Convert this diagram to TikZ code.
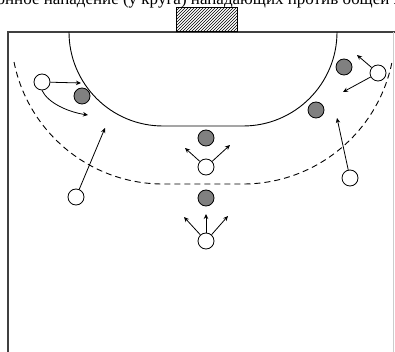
\documentclass[tikz,border=0pt]{standalone}
\usepackage{fontspec}
\setmainfont{Liberation Serif}
\usetikzlibrary{arrows.meta,patterns}
\begin{document}
\begin{tikzpicture}[x=1pt,y=1pt,yscale=-1,
  att/.style={circle,draw,fill=white,minimum size=16pt,inner sep=0pt,line width=0.8pt},
  def/.style={circle,draw,fill=gray,minimum size=16pt,inner sep=0pt,line width=0.8pt},
  mv/.style={-{Stealth[length=5pt,width=4.5pt]},line width=0.8pt},
  court/.style={line width=1.3pt,draw=black!75},
  zone/.style={line width=0.9pt},
  zone9/.style={line width=0.9pt,dash pattern=on 6pt off 4pt}]
\useasboundingbox (0,0) rectangle (395,352);
% cut title line
\node[anchor=base,font=\fontsize{17}{17}\selectfont,inner sep=0pt] (title) at (197,5) {позиционное нападение (у круга) нападающих против общей защиты};
% court borders
\draw[court] (8,352) -- (8,32) -- (395,32);
\draw[line width=0.6pt,draw=black!20] (393,32) -- (393,352);
% goal
\node[draw,line width=0.9pt,pattern=north east lines,minimum width=61pt,minimum height=24pt,inner sep=0pt,anchor=south west] (goal) at (176,32) {};
% 6 m line
\draw[zone] (69,32) arc[start angle=180,end angle=90,radius=94] -- (243,126) arc[start angle=90,end angle=0,radius=94];
% 9 m line
\draw[zone9] (163,32) ++(168.6:152) arc[start angle=168.6,end angle=90,radius=152] -- (243,184) arc[start angle=90,end angle=11.4,radius=152];
% players
\node[att] (w1) at (42,82) {};
\node[def] (g1) at (82,96) {};
\node[att] (w2) at (76,197) {};
\node[def] (g2) at (206,138) {};
\node[att] (w3) at (206,167) {};
\node[def] (g3) at (206,198) {};
\node[att] (w4) at (206,241) {};
\node[def] (g4) at (344,67) {};
\node[att] (w5) at (378,73) {};
\node[def] (g5) at (316,110) {};
\node[att] (w6) at (350,178) {};
% arrow targets
\coordinate (t1) at (81,83);
\coordinate (t2) at (88,115);
\coordinate (t3) at (105,128);
\coordinate (t4) at (185,148);
\coordinate (t5) at (230,145);
\coordinate (t6) at (184,217);
\coordinate (t7) at (206,214);
\coordinate (t8) at (228,216);
\coordinate (t9) at (357,55);
\coordinate (t10) at (343,92);
\coordinate (t11) at (337,118);
% moves
\draw[mv] (w1) -- (t1);
\draw[mv] (w1.south) .. controls (48,103) and (68,112) .. (t2);
\draw[mv] (w2) -- (t3);
\draw[mv] (w3) -- (t4);
\draw[mv] (w3) -- (t5);
\draw[mv] (w4) -- (t6);
\draw[mv] (w4) -- (t7);
\draw[mv] (w4) -- (t8);
\draw[mv] (w5) -- (t9);
\draw[mv] (w5) -- (t10);
\draw[mv] (w6) -- (t11);
\end{tikzpicture}
\end{document}
